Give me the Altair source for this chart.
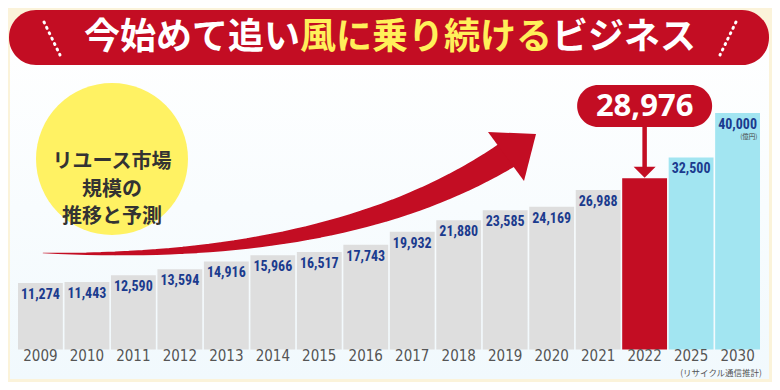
import altair as alt
import pandas as pd

# ---- data ----
years = ["2009", "2010", "2011", "2012", "2013", "2014", "2015", "2016",
         "2017", "2018", "2019", "2020", "2021", "2022", "2025", "2030"]
values = [11274, 11443, 12590, 13594, 14916, 15966, 16517, 17743,
          19932, 21880, 23585, 24169, 26988, 28976, 32500, 40000]
kinds = ["実績"] * 13 + ["2022"] + ["予測"] * 2

title_white_1 = "今始めて追い"
title_yellow = "風に乗り続ける"
title_white_2 = "ビジネス"
circle_lines = ["リユース市場", "規模の", "推移と予測"]
unit_label = "(億円)"
source_label = "(リサイクル通信推計)"

RED = "#C30D23"
CREAM = "#FBF3DA"
VAL_FONT = "Roboto Condensed, Roboto, sans-serif"
YEAR_FONT = "Liberation Sans Narrow, DejaVu Sans Condensed, sans-serif"
JP_FONT = "Noto Sans CJK JP"

df = pd.DataFrame({"year": years, "value": values, "kind": kinds})
one = pd.DataFrame({"a": [0]})

XS = alt.Scale(domain=years, range=[10, 752], paddingInner=0.035, paddingOuter=0)
YS = alt.Scale(domain=[600, 50000], range=[338, 46])
x_enc = alt.X("year:N", scale=XS, axis=None)
y_enc = alt.Y("value:Q", scale=YS, axis=None)

# ---- background panel & banner ----
panel = alt.Chart(one).mark_rect(
    color=alt.Gradient(gradient="linear", x1=0, x2=0, y1=0, y2=1,
                       stops=[alt.GradientStop(color="#FFFFFF", offset=0),
                              alt.GradientStop(color="#F1F9FD", offset=1)])
).encode(x=alt.value(2), x2=alt.value(761), y=alt.value(30), y2=alt.value(371))

banner = alt.Chart(one).mark_rect(color=RED, cornerRadius=27).encode(
    x=alt.value(1), x2=alt.value(761), y=alt.value(2), y2=alt.value(57))

t_left = alt.Chart(one).mark_text(font=JP_FONT, fontSize=36, fontWeight="bold",
                                  color="white", align="right", baseline="middle").encode(
    x=alt.value(292), y=alt.value(30), text=alt.value(title_white_1))
t_mid = alt.Chart(one).mark_text(font=JP_FONT, fontSize=36, fontWeight="bold",
                                 color="#FFF05A", align="center", baseline="middle").encode(
    x=alt.value(418), y=alt.value(30), text=alt.value(title_yellow))
t_right = alt.Chart(one).mark_text(font=JP_FONT, fontSize=36, fontWeight="bold",
                                   color="white", align="left", baseline="middle").encode(
    x=alt.value(544), y=alt.value(30), text=alt.value(title_white_2))

slash_l = alt.Chart(one).mark_rule(color="white", strokeWidth=3, strokeDash=[1, 5],
                                   strokeCap="round").encode(
    x=alt.value(36), x2=alt.value(52), y=alt.value(14), y2=alt.value(47))
slash_r = alt.Chart(one).mark_rule(color="white", strokeWidth=3, strokeDash=[1, 5],
                                   strokeCap="round").encode(
    x=alt.value(728), x2=alt.value(712), y=alt.value(14), y2=alt.value(47))

# ---- bars ----
bars = alt.Chart(df).mark_bar().encode(
    x=x_enc, y=y_enc, y2=alt.value(338),
    color=alt.Color("kind:N", legend=None,
                    scale=alt.Scale(domain=["実績", "2022", "予測"],
                                    range=["#DEDEDE", RED, "#A2E5F1"])))

val_labels = alt.Chart(df).transform_filter("datum.year != '2022'").mark_text(
    font=VAL_FONT, fontSize=14, fontWeight="bold", color="#1B3B8E",
    baseline="middle", dy=12).encode(
    x=x_enc, y=y_enc, text=alt.Text("value:Q", format=","))

unit = alt.Chart(df).transform_filter("datum.year == '2030'").mark_text(
    font=JP_FONT, fontSize=6.5, color="#444444", align="right", baseline="middle",
    dx=20, dy=24).encode(x=x_enc, y=y_enc, text=alt.value(unit_label))

year_labels = alt.Chart(df).mark_text(
    font=YEAR_FONT, fontSize=15, color="#555555", baseline="middle").encode(
    x=x_enc, y=alt.value(348), text="year:N")

source = alt.Chart(one).mark_text(font=JP_FONT, fontSize=8.5, color="#555555",
                                  align="right", baseline="middle").encode(
    x=alt.value(754), y=alt.value(365), text=alt.value(source_label))

# ---- yellow circle ----
circle = alt.Chart(one).mark_point(shape="circle", size=152 * 152, filled=True,
                                   opacity=1, color="#FFF263", strokeWidth=0).encode(
    x=alt.value(104), y=alt.value(151))
circle_text = alt.Chart(one).mark_text(font=JP_FONT, fontSize=20, fontWeight="bold",
                                       color="#333333", baseline="middle",
                                       lineHeight=27.5).encode(
    x=alt.value(104), y=alt.value(154), text=alt.value(circle_lines))

# ---- big red arrow (decoration) ----
P0, P1, P2 = (43, 253), (340, 262), (507, 155)
pts = []
for i in range(41):
    t = i / 40
    px = (1 - t) ** 2 * P0[0] + 2 * t * (1 - t) * P1[0] + t * t * P2[0]
    py = (1 - t) ** 2 * P0[1] + 2 * t * (1 - t) * P1[1] + t * t * P2[1]
    pts.append({"px": px - 8, "py": py - 8, "w": 0.5 + 27 * t, "o": i})
arrow_df = pd.DataFrame(pts)
trail = alt.Chart(arrow_df).mark_trail(color=RED).encode(
    x=alt.X("px:Q", scale=None, axis=None),
    y=alt.Y("py:Q", scale=None, axis=None),
    size=alt.Size("w:Q", scale=None, legend=None),
    order="o:Q")
head = alt.Chart(one).mark_point(
    shape="M-0.8,-0.817L0.8,-0.75L0.4,0.817Z", size=3600, filled=True, opacity=1,
    color=RED, strokeWidth=0).encode(x=alt.value(504), y=alt.value(148.5))

# ---- callout for 2022 ----
d22 = alt.Chart(df).transform_filter("datum.year == '2022'")
callout = d22.mark_bar(width=135, cornerRadius=21, color=RED).encode(
    x=x_enc, y=alt.value(77), y2=alt.value(119))
callout_text = d22.mark_text(font="Open Sans", fontSize=31, fontWeight="bold",
                             color="white", baseline="middle").encode(
    x=x_enc, y=alt.value(99), text=alt.Text("value:Q", format=","))
shaft = d22.mark_rule(color=RED, strokeWidth=4.5, yOffset=-10).encode(
    x=x_enc, y=y_enc, y2=alt.value(119))
tri = d22.mark_point(shape="M-1,-0.5L1,-0.5L0,0.5Z", size=484, filled=True,
                     opacity=1, color=RED, strokeWidth=0, yOffset=-6).encode(
    x=x_enc, y=y_enc)

chart = alt.layer(
    panel, banner, t_left, t_mid, t_right, slash_l, slash_r,
    bars, val_labels, unit, year_labels, source,
    circle, circle_text, trail, head,
    callout, callout_text, shaft, tri
).properties(
    width=764, height=374, padding=0,
    autosize=alt.AutoSizeParams(type="none"),
    background=CREAM
).configure_view(strokeWidth=0)

chart.save("out.html", embed_options={"renderer": "svg", "actions": False})
